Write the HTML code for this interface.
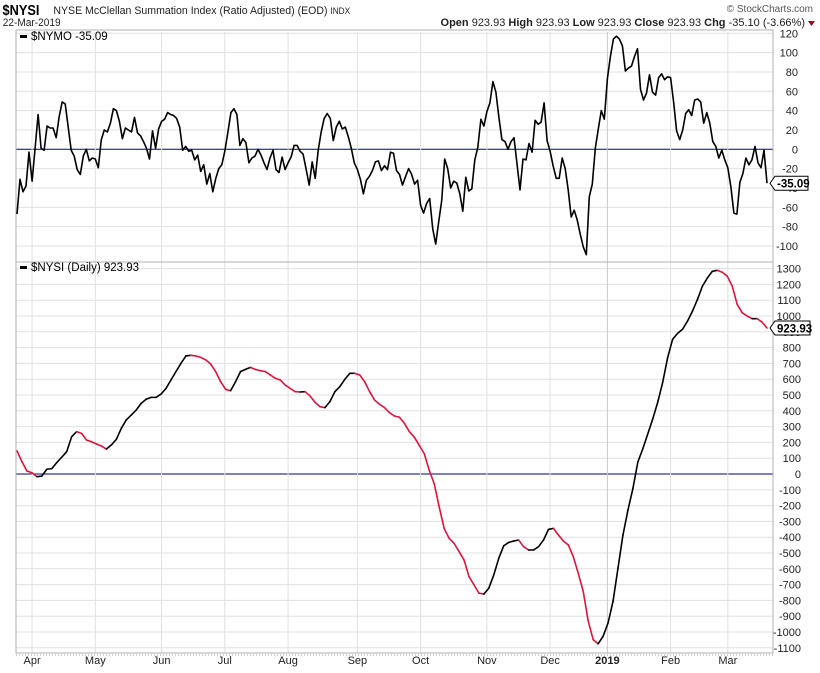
<!DOCTYPE html>
<html><head><meta charset="utf-8"><style>
body{margin:0;background:#fff;font-family:"Liberation Sans",sans-serif;}
svg text{font-family:"Liberation Sans",sans-serif;}
</style></head><body>
<svg id="c" width="820" height="668" xmlns="http://www.w3.org/2000/svg">
<text x="3" y="15" font-size="15" font-weight="bold" transform="scale(0.85,1)">$NYSI</text>
<text x="58" y="14" font-size="11.5" transform="scale(0.92,1)" fill="#222">NYSE McClellan Summation Index (Ratio Adjusted) (EOD) <tspan font-size="9">INDX</tspan></text>
<text x="3" y="26" font-size="11" transform="scale(0.92,1)" fill="#222">22-Mar-2019</text>
<text x="813" y="12" font-size="10" text-anchor="end" fill="#555">© StockCharts.com</text>
<text x="805" y="26" font-size="11" text-anchor="end" fill="#222"><tspan font-weight="bold">Open</tspan> 923.93 <tspan font-weight="bold">High</tspan> 923.93 <tspan font-weight="bold">Low</tspan> 923.93 <tspan font-weight="bold">Close</tspan> 923.93 <tspan font-weight="bold">Chg</tspan> -35.10 (-3.66%)</text>
<path d="M808,21 L815,21 L811.5,26 Z" fill="#a00020"/>
<g id="grid"></g>
<g id="marks"></g>
</svg>
<script>
const monthLabels=["Apr","May","Jun","Jul","Aug","Sep","Oct","Nov","Dec","2019","Feb","Mar"];
const monthDays=[5,26,48,69,90,113,134,156,177,196,217,236];
const nymoTicks=[120,100,80,60,40,20,0,-20,-40,-60,-80,-100];
const nysiTicks=[1300,1200,1100,1000,900,800,700,600,500,400,300,200,100,0,-100,-200,-300,-400,-500,-600,-700,-800,-900,-1000,-1100];
const nymo=[-67,-31,-44,-38,-3,-33,1,36,1,-1,24,22,22,12,34,49,47,23,-1,-7,-21,-26,-7,0,-12,-9,-10,-19,10,20,18,27,42,40,29,11,22,20,18,33,17,14,8,1,-10,19,1,21,29,31,38,36,35,32,23,-1,3,-2,-1,-11,-6,-23,-16,-36,-25,-44,
-30,-20,-16,-2,17,38,42,36,4,11,7,-14,-9,-7,0,-6,-14,-21,-9,-1,-21,-24,-8,-21,-14,-8,4,4,-2,-5,-21,-37,-13,-30,-1,18,32,37,32,9,23,29,21,23,13,1,-14,-21,-31,-46,-32,-28,-22,-13,-12,-22,-17,-21,-3,-4,-22,-26,-37,
-28,-20,-26,-36,-32,-58,-66,-56,-51,-82,-98,-75,-53,-10,-20,-40,-33,-35,-46,-64,-29,-43,-41,-11,2,31,24,39,48,70,59,33,10,8,0,8,12,-15,-42,-10,-11,6,-3,30,26,28,48,9,-2,-17,-30,-30,-9,-20,-42,-70,-63,-73,-88,-101,-109,
-49,-36,1,21,40,31,73,96,114,117,114,107,81,84,86,96,104,62,51,58,77,59,56,74,78,72,75,74,49,19,10,20,37,41,35,51,52,49,27,38,27,8,3,-9,-1,-11,-19,-39,-66,-67,-34,-25,-9,-16,-11,3,-14,-19,-1,-35.09];
const nysi=[146,78,19,8,-17,-13,30,34,72,106,141,236,268,257,215,204,190,177,158,184,219,289,342,373,405,447,473,485,485,506,542,595,648,700,747,751,747,738,722,696,648,584,536,527,584,648,662,675,662,654,648,627,606,595,563,542,521,519,521,494,454,426,420,458,521,553,599,637,637,627,584,521,468,441,420,388,367,359,321,268,
233,181,128,23,-61,-208,-344,-407,-439,-491,-544,-649,-701,-754,-760,-722,-638,-533,-454,-433,-424,-418,-460,-481,-481,-460,-418,-351,-344,-386,-424,-449,-523,-628,-743,-930,-1048,-1075,-1027,-943,-806,-596,-386,-229,-92,76,160,254,349,454,580,737,853,890,916,968,1031,1105,1189,1241,1283,1289,1277,1252,1189,1073,1021,1000,983,983,962,923.93];
const NS="http://www.w3.org/2000/svg";
const X0=17,X1=767,PL=16,PR=773;
const TOP0=32,TOP1=262,BOT1=653;
const yTop=v=>149.3-v*0.967;
const yBot=v=>474-v*0.158;
const xDay=d=>X0+d*(X1-X0)/249;
const xIdx=(i,n)=>X0+i*(X1-X0)/(n-1);
const grid=document.getElementById('grid'),marks=document.getElementById('marks');
function el(t,a,p){const e=document.createElementNS(NS,t);for(const k in a)e.setAttribute(k,a[k]);(p||grid).appendChild(e);return e;}
// horizontal grid + labels
nymoTicks.forEach(v=>{
  const y=yTop(v);
  const l=el('line',{x1:PL,x2:PR,y1:y,y2:y,stroke:v===0?'#000080':'#e0e0e0','stroke-width':1});
  
  
  const t=el('text',{x:798,y:y+4,'font-size':11,'text-anchor':'end',fill:'#222'});
  t.textContent=v;
  
  
});
nysiTicks.forEach(v=>{
  const y=yBot(v);
  const l=el('line',{x1:PL,x2:PR,y1:y,y2:y,stroke:v===0?'#000080':'#e0e0e0','stroke-width':1});
  
  
  const t=el('text',{x:801,y:y+4,'font-size':11,'text-anchor':'end',fill:'#222'});
  t.textContent=v;
  
  
});
monthDays.forEach((d,i)=>{
  const x=xDay(d);
  const l=el('line',{x1:x,x2:x,y1:TOP0,y2:BOT1,stroke:monthLabels[i]==='2019'?'#c8c8c8':'#e0e0e0','stroke-width':1});
  
  
  const t=el('text',{x:x,y:664,'font-size':11,'text-anchor':'middle',fill:'#222','font-weight':monthLabels[i]==='2019'?'bold':'normal'});
  t.textContent=monthLabels[i];
  
  
});
// panel borders
const b1=el('rect',{x:PL,y:TOP0-2,width:PR-PL,height:TOP1-TOP0+2,fill:'none',stroke:'#b0b0b0'});


const b2=el('rect',{x:PL,y:TOP1,width:PR-PL,height:BOT1-TOP1,fill:'none',stroke:'#b0b0b0'});


const ax=el('line',{x1:PL,x2:PR,y1:BOT1+2,y2:BOT1+2,stroke:'#999','stroke-dasharray':'1,2'});


// NYMO line
let d='';nymo.forEach((v,i)=>{d+=(i?'L':'M')+xIdx(i,nymo.length).toFixed(1)+','+yTop(v).toFixed(1);});
const p=el('path',{d:d,fill:'none',stroke:'#000','stroke-width':1.6,'stroke-linejoin':'round'},marks);


// NYSI line colored by direction
for(let i=1;i<nysi.length;i++){
  const s=el('line',{x1:xIdx(i-1,nysi.length),y1:yBot(nysi[i-1]),x2:xIdx(i,nysi.length),y2:yBot(nysi[i]),stroke:nysi[i]<nysi[i-1]?'#dc143c':'#000','stroke-width':1.6,'stroke-linecap':'round'},marks);
  
  
}
// value tags
function tag(y,txt,name,w){
  const g=el('g',{},marks);
  
  
  el('path',{d:`M770,${y} L775,${y-7} L${775+w},${y-7} L${775+w},${y+7} L775,${y+7} Z`,fill:'#fff',stroke:'#000'},g);
  const t=el('text',{x:777,y:y+4.5,'font-size':11.5,'font-weight':'bold',fill:'#000'},g);
  t.textContent=txt;
}
tag(yTop(nymo[nymo.length-1]),'-35.09','nymo-value-tag',33);
tag(yBot(nysi[nysi.length-1]),'923.93','nysi-value-tag',35);
// legends
function legend(y,txt,name){
  const g=el('g',{},marks);
  
  
  el('rect',{x:20,y:y-5,width:7,height:3,fill:'#000'},g);
  const t=el('text',{x:31,y:y,'font-size':11.5,fill:'#000'},g);
  t.textContent=txt;
}
legend(40,'$NYMO -35.09','nymo-legend');
legend(271,'$NYSI (Daily) 923.93','nysi-legend');
</script>
</body></html>
